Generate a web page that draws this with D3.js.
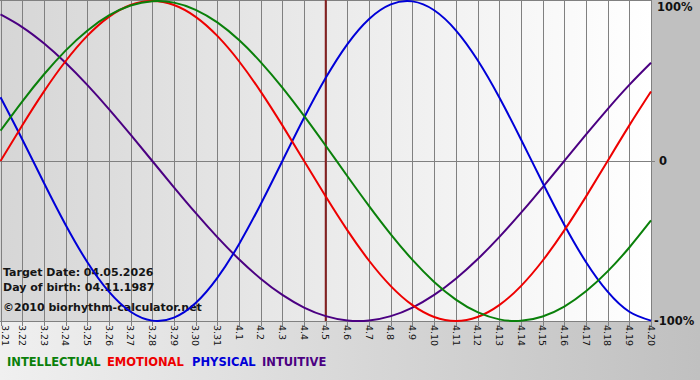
<!DOCTYPE html>
<html>
<head>
<meta charset="utf-8">
<script src="https://cdn.jsdelivr.net/npm/d3@7"></script>
<style>
  html, body { margin: 0; padding: 0; background: #c0c0c0; }
  svg { display: block; }
  text { font-family: "DejaVu Sans", Verdana, sans-serif; }
</style>
</head>
<body>
<svg id="chart" width="700" height="380"></svg>
<script>
// ---- data ----
const days = ["3.21","3.22","3.23","3.24","3.25","3.26","3.27","3.28","3.29","3.30","3.31",
  "4.1","4.2","4.3","4.4","4.5","4.6","4.7","4.8","4.9","4.10","4.11","4.12","4.13","4.14",
  "4.15","4.16","4.17","4.18","4.19","4.20"];
const targetDay = "4.5";

const physical = [0.3984, 0.1362, -0.1362, -0.3984, -0.6311, -0.8170, -0.9423, -0.9977, -0.9791, -0.8879,
  -0.7308, -0.5196, -0.2698, 0, 0.2698, 0.5196, 0.7308, 0.8879, 0.9791, 0.9977, 0.9423, 0.8170, 0.6311,
  0.3984, 0.1362, -0.1362, -0.3984, -0.6311, -0.8170, -0.9423, -0.9977];
const emotional = [0, 0.2225, 0.4339, 0.6235, 0.7818, 0.9010, 0.9749, 1, 0.9749, 0.9010, 0.7818, 0.6235,
  0.4339, 0.2225, 0, -0.2225, -0.4339, -0.6235, -0.7818, -0.9010, -0.9749, -1, -0.9749, -0.9010, -0.7818,
  -0.6235, -0.4339, -0.2225, 0, 0.2225, 0.4339];
const intellectual = [0.1893, 0.3717, 0.5406, 0.6901, 0.8146, 0.9096, 0.9718, 0.9989, 0.9898, 0.9450,
  0.8660, 0.7557, 0.6182, 0.4582, 0.2817, 0.0951, -0.0951, -0.2817, -0.4582, -0.6182, -0.7557, -0.8660,
  -0.9450, -0.9898, -0.9989, -0.9718, -0.9096, -0.8146, -0.6901, -0.5406, -0.3717];
const intuitive = [0.9158, 0.8372, 0.7357, 0.6142, 0.4759, 0.3247, 0.1646, 0, -0.1646, -0.3247, -0.4759,
  -0.6142, -0.7357, -0.8372, -0.9158, -0.9694, -0.9966, -0.9966, -0.9694, -0.9158, -0.8372, -0.7357,
  -0.6142, -0.4759, -0.3247, -0.1646, 0, 0.1646, 0.3247, 0.4759, 0.6142];

const yTickValues = [1, 0, -1];
const yTickLabels = ["100%", "0", "-100%"];
const infoLines = ["Target Date: 04.05.2026", "Day of birth: 04.11.1987", "\u00a92010 biorhythm-calculator.net"];

const series = [
  { name: "INTUITIVE", values: intuitive, color: "#4b0082" },
  { name: "PHYSICAL", values: physical, color: "#0000d8" },
  { name: "EMOTIONAL", values: emotional, color: "#ee0000" },
  { name: "INTELLECTUAL", values: intellectual, color: "#0a800a" }
];
const legendOrder = ["INTELLECTUAL", "EMOTIONAL", "PHYSICAL", "INTUITIVE"];

// ---- layout ----
const svg = d3.select("#chart");
const W = 700, H = 380;
const plot = { left: 0, right: 651, top: 1, bottom: 321 };

const x = d3.scalePoint().domain(days).range([0.5, plot.right]);
const y = d3.scaleLinear().domain([-1, 1]).range([plot.bottom, plot.top]);

const defs = svg.append("defs");
const gPlot = defs.append("linearGradient").attr("id", "gPlot").attr("x1", 0).attr("x2", 1).attr("y1", 0).attr("y2", 0);
gPlot.append("stop").attr("offset", "0%").attr("stop-color", "#d6d6d6");
gPlot.append("stop").attr("offset", "100%").attr("stop-color", "#ffffff");
const gBot = defs.append("linearGradient").attr("id", "gBot").attr("x1", 0).attr("x2", 1).attr("y1", 0).attr("y2", 0);
gBot.append("stop").attr("offset", "0%").attr("stop-color", "#f0f0f0");
gBot.append("stop").attr("offset", "100%").attr("stop-color", "#c0c0c0");
defs.append("clipPath").attr("id", "clipPlot").append("rect")
  .attr("x", plot.left).attr("y", 0).attr("width", plot.right - plot.left + 1).attr("height", plot.bottom + 1);

// backgrounds
svg.append("rect").attr("x", 0).attr("y", 0).attr("width", W).attr("height", H).attr("fill", "#c0c0c0");
svg.append("rect").attr("x", 0).attr("y", plot.bottom).attr("width", W).attr("height", H - plot.bottom).attr("fill", "url(#gBot)");
svg.append("rect").attr("x", 0).attr("y", 0).attr("width", plot.right).attr("height", plot.bottom).attr("fill", "url(#gPlot)");

// vertical grid + ticks
svg.append("g").selectAll("line").data(days).join("line")
  .attr("x1", d => Math.round(x(d)) + 0.5).attr("x2", d => Math.round(x(d)) + 0.5)
  .attr("y1", 0).attr("y2", plot.bottom + 5)
  .attr("stroke", "#808080").attr("stroke-width", 1);

// horizontal lines: top, zero, bottom
svg.append("line").attr("x1", 0).attr("x2", plot.right + 1).attr("y1", 0.5).attr("y2", 0.5).attr("stroke", "#808080");
svg.append("line").attr("x1", 0).attr("x2", plot.right + 4).attr("y1", Math.round(y(0)) + 0.5).attr("y2", Math.round(y(0)) + 0.5).attr("stroke", "#808080");
svg.append("line").attr("x1", 0).attr("x2", plot.right + 1).attr("y1", plot.bottom + 0.5).attr("y2", plot.bottom + 0.5).attr("stroke", "#808080");

// x labels rotated
svg.append("g").selectAll("text").data(days).join("text")
  .attr("transform", d => `translate(${Math.max(x(d), 5)},${plot.bottom + 4}) rotate(90)`)
  .attr("x", 0).attr("y", 0).attr("dy", "0.35em")
  .attr("font-size", "9.5px").attr("fill", "#111")
  .text(d => d);

// right labels
svg.append("g").selectAll("text").data(yTickValues).join("text")
  .attr("x", (d, i) => i === 1 ? 659 : (i === 0 ? 657 : 654))
  .attr("y", d => Math.min(Math.max(y(d), 7), 321)).attr("dy", "0.36em")
  .attr("font-size", "11.5px").attr("font-weight", "bold").attr("fill", "#111")
  .text((d, i) => yTickLabels[i]);

// info text
svg.append("g").selectAll("text").data(infoLines).join("text")
  .attr("x", 3).attr("y", (d, i) => [276, 291, 311][i])
  .attr("font-size", "11px").attr("font-weight", "bold").attr("fill", "#151515")
  .text(d => d);

// target line
svg.append("line")
  .attr("x1", x(targetDay)).attr("x2", x(targetDay))
  .attr("y1", 0).attr("y2", plot.bottom)
  .attr("stroke", "#862020").attr("stroke-width", 2);

// curves
const line = d3.line().x((v, i) => x(days[i])).y(v => y(v)).curve(d3.curveNatural);
svg.append("g").attr("clip-path", "url(#clipPlot)").selectAll("path").data(series).join("path")
  .attr("d", s => line(s.values))
  .attr("fill", "none").attr("stroke", s => s.color).attr("stroke-width", 2);

// legend
const legendX = [7, 107, 192, 262];
svg.append("g").selectAll("text").data(legendOrder).join("text")
  .attr("x", (d, i) => legendX[i]).attr("y", 366)
  .attr("font-size", "11.5px").attr("font-weight", "bold")
  .attr("fill", d => series.find(s => s.name === d).color)
  .text(d => d);
</script>
</body>
</html>
